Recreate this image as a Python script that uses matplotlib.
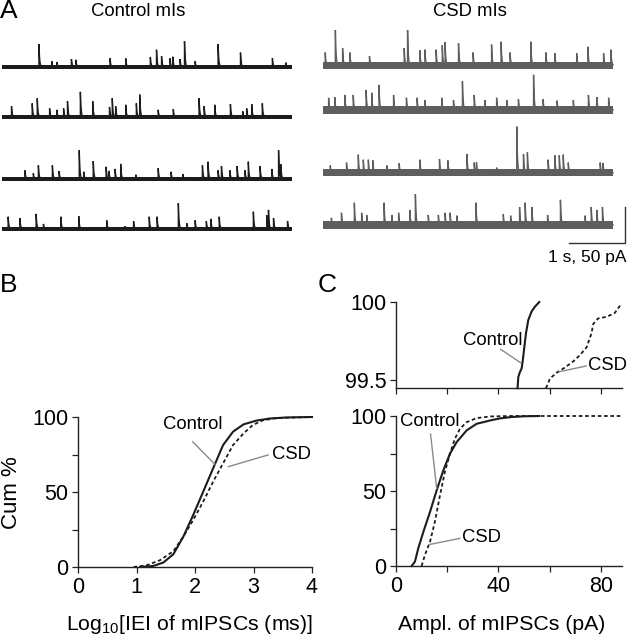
import numpy as np
import matplotlib
matplotlib.use("Agg")
import matplotlib.pyplot as plt

plt.rcParams['font.family'] = ['Liberation Sans', 'DejaVu Sans']
plt.rcParams['mathtext.default'] = 'regular'

W, H = 628, 638
DPI = 100

# ---------------- data ----------------
# Panel A: event times (s) and amplitudes (pA)
trace_duration = 5.18
ctrl_t1 = [0.66, 0.89, 0.98, 1.24, 1.32, 1.93, 2.21, 2.65, 2.76, 2.85, 3.00, 3.05, 3.18, 3.26, 3.45, 3.86, 4.26, 4.83, 5.07]
ctrl_a1 = [32, 8, 7, 11, 10, 12, 12, 14, 24, 15, 12, 14, 11, 36, 8, 32, 20, 12, 6]
ctrl_t2 = [0.17, 0.54, 0.63, 0.85, 0.98, 1.10, 1.17, 1.40, 1.62, 1.92, 1.97, 2.03, 2.21, 2.40, 2.46, 2.79, 3.06, 3.52, 3.61, 3.80, 4.08, 4.30, 4.37, 4.46, 4.65]
ctrl_a2 = [15, 19, 26, 12, 10, 12, 22, 35, 22, 14, 26, 15, 17, 19, 31, 10, 11, 26, 15, 17, 18, 8, 12, 18, 19]
ctrl_t3 = [0.41, 0.56, 0.65, 0.90, 1.02, 1.38, 1.46, 1.63, 1.86, 1.91, 2.02, 2.12, 2.39, 2.79, 3.02, 3.23, 3.58, 3.68, 3.86, 3.92, 4.07, 4.20, 4.34, 4.40, 4.61, 4.82, 4.94, 4.98]
ctrl_a3 = [12, 8, 19, 19, 11, 40, 10, 25, 17, 11, 14, 21, 6, 15, 10, 7, 19, 24, 12, 18, 12, 18, 12, 24, 18, 14, 40, 19]
ctrl_t4 = [0.11, 0.32, 0.61, 0.74, 1.05, 1.37, 1.87, 2.20, 2.35, 2.63, 2.77, 3.15, 3.30, 3.45, 3.65, 3.73, 3.88, 4.49, 4.73, 4.76, 4.85, 5.10]
ctrl_a4 = [17, 15, 21, 7, 17, 18, 12, 4, 11, 17, 17, 36, 8, 12, 11, 14, 17, 24, 19, 25, 15, 11]

csd_t1 = [0.04, 0.22, 0.35, 0.48, 0.83, 1.45, 1.51, 1.73, 1.82, 2.02, 2.13, 2.18, 2.42, 2.68, 3.01, 3.18, 3.34, 3.71, 3.98, 4.14, 4.53, 4.73, 5.01, 5.14]
csd_a1 = [18, 57, 24, 18, 13, 24, 51, 21, 22, 22, 28, 32, 31, 18, 29, 33, 18, 33, 18, 17, 17, 26, 17, 22]
csd_t2 = [0.10, 0.21, 0.39, 0.54, 0.77, 0.87, 1.00, 1.26, 1.49, 1.68, 1.82, 2.12, 2.33, 2.49, 2.70, 2.89, 3.10, 3.28, 3.49, 3.76, 3.93, 4.18, 4.47, 4.74, 4.89, 5.10]
csd_a2 = [17, 18, 21, 21, 28, 24, 35, 21, 17, 17, 14, 17, 14, 40, 21, 14, 17, 14, 15, 49, 15, 13, 14, 21, 18, 17]
csd_t3 = [0.13, 0.42, 0.63, 0.72, 0.81, 0.89, 1.14, 1.36, 1.73, 2.08, 2.23, 2.57, 2.70, 2.74, 3.10, 3.46, 3.58, 3.65, 4.02, 4.14, 4.22, 4.29, 4.38, 4.95, 5.00]
csd_a3 = [10, 14, 25, 18, 18, 17, 10, 13, 18, 19, 17, 26, 14, 14, 7, 64, 26, 28, 18, 24, 24, 25, 14, 14, 13]
csd_t4 = [0.15, 0.33, 0.56, 0.69, 0.78, 1.09, 1.23, 1.35, 1.55, 1.65, 1.88, 2.06, 2.18, 2.27, 2.39, 2.73, 3.22, 3.35, 3.51, 3.61, 3.73, 4.01, 4.24, 4.68, 4.79, 4.89, 4.99]
csd_a4 = [10, 17, 31, 17, 14, 31, 14, 17, 21, 43, 14, 14, 17, 17, 13, 31, 15, 13, 25, 31, 25, 14, 35, 13, 25, 21, 25]

# Panel B: cumulative % of log10 IEI
iei_ctrl_x = [1.06, 1.29, 1.46, 1.63, 1.80, 1.97, 2.14, 2.31, 2.48, 2.65, 2.83, 3.05, 3.28, 3.57, 4.0]
iei_ctrl_y = [0, 0.7, 3.0, 8.5, 20.2, 34.7, 50.2, 65.8, 81.3, 90.2, 95.1, 97.6, 99.0, 99.7, 100]
iei_csd_x = [0.95, 1.17, 1.40, 1.63, 1.80, 1.97, 2.14, 2.31, 2.48, 2.65, 2.83, 2.99, 3.16, 3.40, 4.0]
iei_csd_y = [0, 1.1, 4.5, 10.5, 20.2, 31.4, 43.6, 56.9, 69.1, 81.3, 89.1, 94.7, 97.8, 99.3, 100]

# Panel C: cumulative % of amplitude (pA)
amp_ctrl_x = [6.1, 7.4, 8.7, 10.7, 13.3, 15.9, 18.5, 21.1, 23.7, 27.6, 31.5, 36.7, 40.6, 45.0, 50.0, 56.0]
amp_ctrl_y = [0, 2.9, 11.8, 22.8, 36.1, 50.5, 63.8, 74.9, 82.6, 90.4, 94.8, 97.0, 98.4, 99.3, 99.8, 100]
amp_csd_x = [10.0, 11.3, 13.3, 15.2, 17.2, 19.1, 21.1, 23.0, 25.0, 27.6, 31.5, 36.7, 45.0, 88.2]
amp_csd_y = [0, 7.3, 16.2, 29.5, 47.2, 62.7, 74.9, 84.8, 91.5, 95.9, 98.6, 99.7, 100, 100]
# top inset (99.5 - 100 %)
top_ctrl_x = [47.5, 47.8, 48.4, 49.1, 49.5, 50.0, 50.8, 51.7, 53.0, 54.3, 56.0]
top_ctrl_y = [99.447, 99.52, 99.55, 99.575, 99.62, 99.69, 99.80, 99.885, 99.94, 99.97, 100.0]
top_csd_x = [58.6, 60.2, 62.8, 66.0, 69.3, 71.9, 74.5, 76.4, 77.1, 79.0, 82.3, 85.5, 86.8, 88.2]
top_csd_y = [99.447, 99.51, 99.547, 99.58, 99.62, 99.66, 99.71, 99.80, 99.86, 99.895, 99.905, 99.93, 99.96, 99.99]

CTRL_C = '#1c1c1c'
CSD_C = '#5e5e5e'
LEAD_C = '#8a8a8a'

TICK_FS = 15.5
LABEL_FS = 15.3
ANN_FS = 13.3
TITLE_FS = 13.3
LETTER_FS = 19


def rect(x0, y0, x1, y1):
    return [x0 / W, 1 - y1 / H, (x1 - x0) / W, (y1 - y0) / H]


def fx(px):
    return px / W


def fy(py):
    return 1 - py / H


fig = plt.figure(figsize=(W / DPI, H / DPI), dpi=DPI)

# ---------------- Panel A ----------------
def make_trace(times, amps, dt=0.0005, tau=0.012):
    t = np.arange(0, trace_duration, dt)
    y = np.zeros_like(t)
    for ti, ai in zip(times, amps):
        m = t >= ti
        y[m] += ai * np.exp(-(t[m] - ti) / tau)
    return t, y


def draw_traces(ax, sets, offsets, color, noise_half):
    for (tt, aa), off in zip(sets, offsets):
        t, y = make_trace(tt, aa)
        ax.fill_between([0, trace_duration], off - noise_half, off + noise_half,
                        color=color, lw=0)
        ax.plot(t, y + off, color=color, lw=1.0, solid_joinstyle='miter')


axc = fig.add_axes(rect(2, 30, 292, 250))
axc.set_xlim(0, 5.18)
axc.set_ylim(0, 305.6)
axc.axis('off')
draw_traces(axc, [(ctrl_t1, ctrl_a1), (ctrl_t2, ctrl_a2), (ctrl_t3, ctrl_a3), (ctrl_t4, ctrl_a4)],
            [254.2, 184.7, 98.6, 29.2], CTRL_C, 3.2)

axs = fig.add_axes(rect(323, 30, 628, 250))
axs.set_xlim(0, 305 / 56)
axs.set_ylim(0, 305.6)
axs.axis('off')
draw_traces(axs, [(csd_t1, csd_a1), (csd_t2, csd_a2), (csd_t3, csd_a3), (csd_t4, csd_a4)],
            [256.3, 194.4, 107.4, 34.7], CSD_C, 5.0)
# scale bar: 1 s, 50 pA
axs.plot([4.393, 5.393, 5.393], [9.7, 9.7, 59.7], color='#333333', lw=1.0,
         clip_on=False, solid_joinstyle='miter')
fig.text(fx(627), fy(257), '1 s, 50 pA', ha='right', va='center', fontsize=12.5)

fig.text(fx(138), fy(11), 'Control mIs', ha='center', va='center', fontsize=TITLE_FS)
fig.text(fx(470), fy(11), 'CSD mIs', ha='center', va='center', fontsize=TITLE_FS)
fig.text(fx(0), fy(11), 'A', ha='left', va='center', fontsize=LETTER_FS)
fig.text(fx(0), fy(285), 'B', ha='left', va='center', fontsize=LETTER_FS)
fig.text(fx(318), fy(285), 'C', ha='left', va='center', fontsize=LETTER_FS)


def style_axis(ax):
    for s in ['top', 'right']:
        ax.spines[s].set_visible(False)
    for s in ['left', 'bottom']:
        ax.spines[s].set_linewidth(1.0)
        ax.spines[s].set_color('#222222')
    ax.tick_params(direction='out', length=4, width=0.9, labelsize=TICK_FS, pad=3,
                   color='#222222')


# ---------------- Panel B ----------------
axB = fig.add_axes(rect(78, 417, 312, 567))
style_axis(axB)
axB.set_xlim(0, 4)
axB.set_ylim(0, 100)
axB.plot(iei_ctrl_x, iei_ctrl_y, color=CTRL_C, lw=1.5, clip_on=False)
axB.plot(iei_csd_x, iei_csd_y, color=CTRL_C, lw=1.3, ls=(0, (2, 1.5)), clip_on=False)
axB.set_xticks([0, 1, 2, 3, 4])
axB.set_yticks([0, 25, 50, 75, 100])
axB.set_yticklabels(['0', '', '50', '', '100'])
axB.text(1.97, 94.7, 'Control', ha='center', va='center', fontsize=ANN_FS)
axB.plot([1.96, 2.34], [83.5, 68.5], color=LEAD_C, lw=1.0)
axB.text(3.31, 75.1, 'CSD', ha='left', va='center', fontsize=ANN_FS)
axB.plot([3.25, 2.57], [74.7, 66.9], color=LEAD_C, lw=1.0)
fig.text(fx(1), fy(493), 'Cum %', rotation=90, ha='left', va='center', fontsize=16)
fig.text(fx(189), fy(624), 'Log$_{10}$[IEI of mIPSCs (ms)]', ha='center', va='center', fontsize=LABEL_FS)

# ---------------- Panel C (top inset) ----------------
axT = fig.add_axes(rect(396, 302, 621.7, 388.3))
style_axis(axT)
axT.set_xlim(0, 88.2)
axT.set_ylim(99.447, 100)
axT.plot(top_ctrl_x, top_ctrl_y, color=CTRL_C, lw=1.5, clip_on=False)
axT.plot(top_csd_x, top_csd_y, color=CTRL_C, lw=1.3, ls=(0, (2, 1.5)), clip_on=False)
axT.set_xticks([0, 20, 40, 60, 80])
axT.set_xticklabels([])
axT.set_yticks([99.5, 100])
axT.set_yticklabels(['99.5', '100'])
axT.text(38.0, 99.756, 'Control', ha='center', va='center', fontsize=ANN_FS)
axT.plot([40.9, 48.7], [99.697, 99.611], color=LEAD_C, lw=1.0)
axT.text(75.0, 99.59, 'CSD', ha='left', va='center', fontsize=ANN_FS, clip_on=False)
axT.plot([74.3, 63.8], [99.59, 99.553], color=LEAD_C, lw=1.0)

# ---------------- Panel C (main) ----------------
axC = fig.add_axes(rect(396, 416, 621.7, 566))
style_axis(axC)
axC.set_xlim(0, 88.2)
axC.set_ylim(0, 100)
axC.plot(amp_ctrl_x, amp_ctrl_y, color=CTRL_C, lw=1.5, clip_on=False)
axC.plot(amp_csd_x, amp_csd_y, color=CTRL_C, lw=1.3, ls=(0, (2, 1.5)), clip_on=False)
axC.set_xticks([0, 20, 40, 60, 80])
axC.set_xticklabels(['0', '', '40', '', '80'])
axC.set_yticks([0, 25, 50, 75, 100])
axC.set_yticklabels(['0', '', '50', '', '100'])
axC.text(13.2, 96.5, 'Control', ha='center', va='center', fontsize=ANN_FS)
axC.plot([13.5, 15.9], [88.0, 51.7], color=LEAD_C, lw=1.0)
axC.text(25.7, 18.8, 'CSD', ha='left', va='center', fontsize=ANN_FS)
axC.plot([24.9, 13.3], [18.4, 14.4], color=LEAD_C, lw=1.0)
fig.text(fx(502), fy(624), 'Ampl. of mIPSCs (pA)', ha='center', va='center', fontsize=LABEL_FS)

fig.savefig('out.png', dpi=DPI)
